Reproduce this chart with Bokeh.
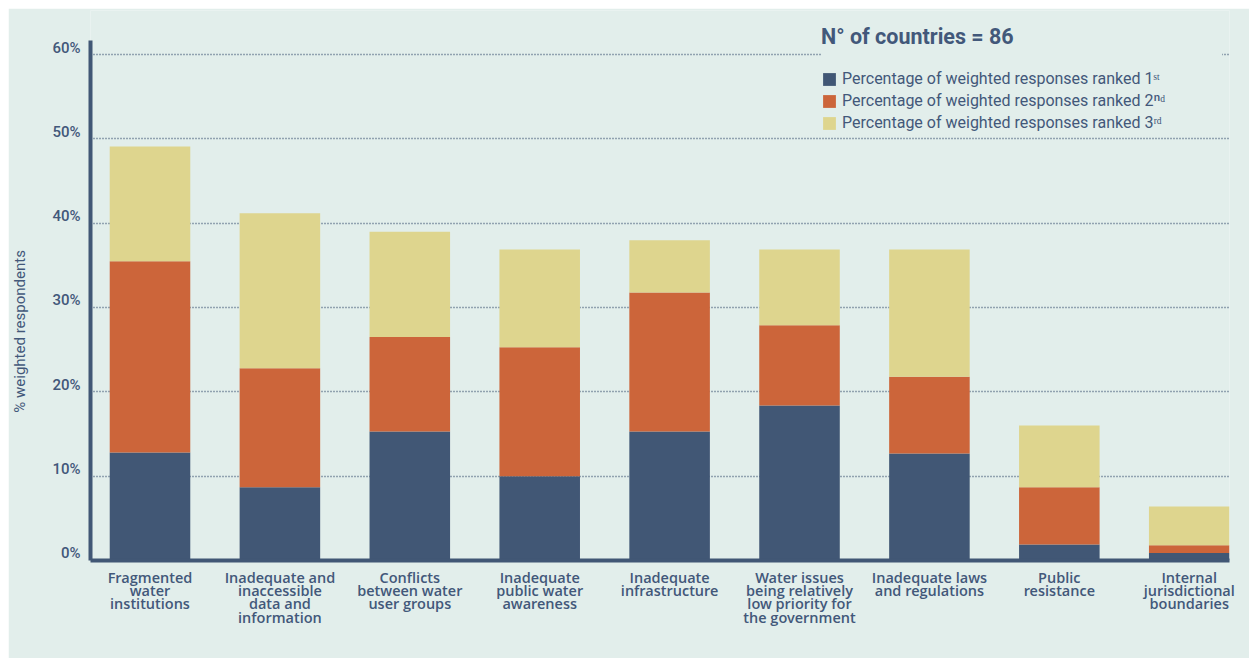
from bokeh.plotting import figure
from bokeh.models import Range1d, FixedTicker, Legend, LegendItem, ColumnDataSource
from bokeh.embed import file_html
from bokeh.resources import INLINE

categories = [
    "Fragmented\nwater\ninstitutions",
    "Inadequate and\ninaccessible\ndata and\ninformation",
    "Conflicts\nbetween water\nuser groups",
    "Inadequate\npublic water\nawareness",
    "Inadequate\ninfrastructure",
    "Water issues\nbeing relatively\nlow priority for\nthe government",
    "Inadequate laws\nand regulations",
    "Public\nresistance",
    "Internal\njurisdictional\nboundaries",
]
ranked_1st = [12.8, 8.7, 15.3, 10.0, 15.3, 18.4, 12.7, 1.9, 0.9]
ranked_2nd = [22.7, 14.1, 11.2, 15.3, 16.5, 9.5, 9.1, 6.8, 0.9]
ranked_3rd = [13.6, 18.4, 12.5, 11.6, 6.2, 9.0, 15.1, 7.3, 4.6]
y_ticks = [0, 10, 20, 30, 40, 50, 60]
series_labels = [
    "Percentage of weighted responses ranked 1\u02e2\u1d57",
    "Percentage of weighted responses ranked 2\u207f\u1d48",
    "Percentage of weighted responses ranked 3\u02b3\u1d48",
]
legend_title = "N\u00b0 of countries = 86"
y_label = "% weighted respondents"

BG = "#e2eeeb"
NAVY = "#415775"
ORANGE = "#cc653a"
YELLOW = "#ded58e"
TXT = "#42587a"

xs = list(range(len(categories)))
source = ColumnDataSource(dict(x=xs, r1=ranked_1st, r2=ranked_2nd, r3=ranked_3rd))

p = figure(width=1241, height=650, output_backend="svg", toolbar_location=None,
           x_range=Range1d(-0.458, 8.31), y_range=Range1d(0, 65.24),
           min_border_left=79, min_border_right=20, min_border_top=2, min_border_bottom=98)
p.margin = (8, 0, 0, 8)
p.background_fill_color = BG
p.border_fill_color = BG
p.outline_line_color = None

renderers = p.vbar_stack(["r1", "r2", "r3"], x="x", width=0.62, source=source,
                         color=[NAVY, ORANGE, YELLOW], line_color=None)

# x axis
xa = p.xaxis[0]
xa.ticker = FixedTicker(ticks=xs)
xa.major_label_overrides = {i: c for i, c in zip(xs, categories)}
xa.axis_line_width = 4
xa.axis_line_color = NAVY
xa.major_tick_line_color = None
xa.minor_tick_line_color = None
xa.major_tick_out = 0
xa.major_tick_in = 0
xa.major_label_standoff = 7
xa.major_label_text_font = "Open Sans SemiBold"
xa.major_label_text_font_size = "14.5px"
xa.major_label_text_color = TXT
xa.major_label_text_line_height = 0.71

# y axis (labels sit slightly above their gridlines)
shift = 0.85
ya = p.yaxis[0]
ya.bounds = (0, 61.7)
ya.ticker = FixedTicker(ticks=[t + shift for t in y_ticks])
ya.major_label_overrides = {t + shift: f"{t}%" for t in y_ticks}
ya.axis_line_width = 4
ya.axis_line_color = NAVY
ya.major_tick_line_color = None
ya.minor_tick_line_color = None
ya.major_tick_out = 0
ya.major_tick_in = 0
ya.major_label_standoff = 10
ya.major_label_text_font = "Roboto Medium"
ya.major_label_text_font_size = "15px"
ya.major_label_text_color = TXT
# trailing em spaces move the visible label down along the axis
ya.axis_label = y_label + "\u2003" * 6
ya.axis_label_text_font = "Roboto"
ya.axis_label_text_font_style = "normal"
ya.axis_label_text_font_size = "15px"
ya.axis_label_text_color = TXT
ya.axis_label_standoff = 20

p.xgrid.visible = False
p.ygrid.ticker = FixedTicker(ticks=y_ticks[1:])
p.ygrid.grid_line_color = NAVY
p.ygrid.grid_line_width = 1.5
p.ygrid.grid_line_dash = "1 2"

legend = Legend(items=[LegendItem(label=l, renderers=[r]) for l, r in zip(series_labels, renderers)],
                location=(731, 428))
legend.title = legend_title
legend.title_text_font = "Roboto"
legend.title_text_font_size = "21.5px"
legend.title_text_font_style = "bold"
legend.title_text_color = TXT
legend.title_standoff = 20
legend.label_text_font = "Roboto"
legend.label_text_font_size = "16px"
legend.label_text_color = TXT
legend.glyph_width = 16
legend.glyph_height = 16
legend.label_height = 18
legend.label_width = 380
legend.label_standoff = 5
legend.spacing = 3
legend.padding = 12
legend.margin = 0
legend.border_line_color = None
legend.background_fill_color = BG
legend.background_fill_alpha = 1.0
p.add_layout(legend)

open("out.html", "w").write(file_html(p, INLINE))
